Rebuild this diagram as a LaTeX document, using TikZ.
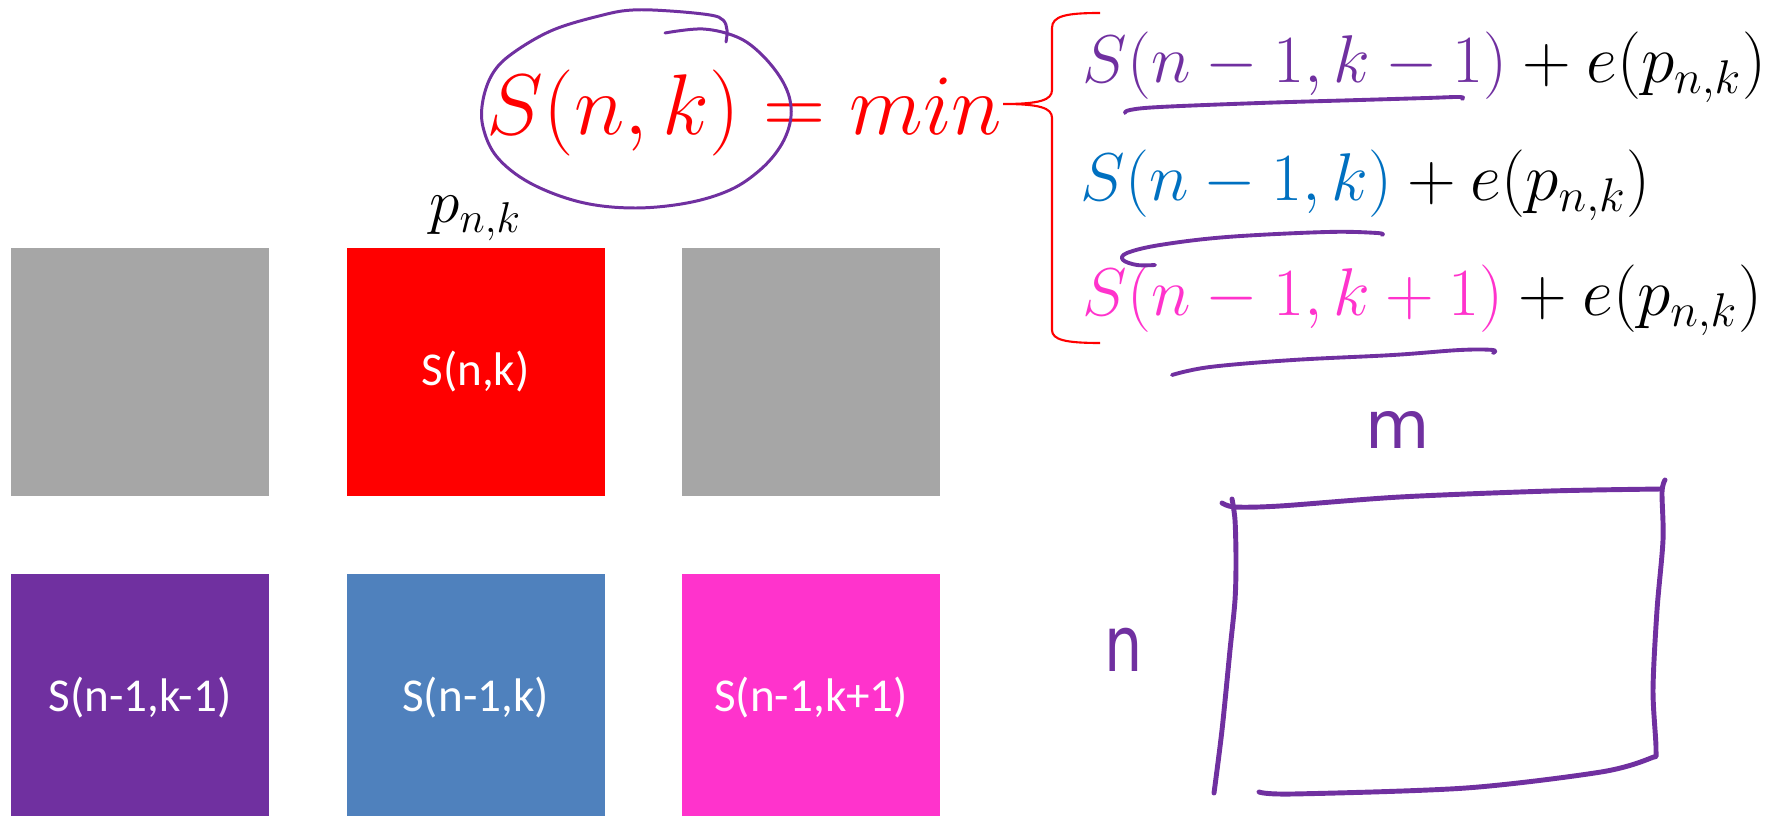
\documentclass[tikz,border=0pt]{standalone}
\usepackage{fix-cm}
\usepackage{fontspec}
\usepackage{xcolor}
\usepackage{tikz}
\usetikzlibrary{positioning}
\newfontfamily\calibri{Carlito}
\newfontfamily\inkhand{DejaVu Sans}
\definecolor{cellgray}{RGB}{166, 166, 166}
\definecolor{cellred}{RGB}{255, 0, 0}
\definecolor{cellpurple}{RGB}{112, 48, 160}
\definecolor{cellblue}{RGB}{79, 129, 189}
\definecolor{cellpink}{RGB}{255, 51, 204}
\definecolor{inkpurple}{RGB}{112, 48, 160}
\definecolor{termblue}{RGB}{0, 112, 192}
\tikzset{
  cell/.style={minimum width=2.58cm, minimum height=2.48cm, inner sep=0pt, text=white,
               font=\calibri\fontsize{13.4}{16}\selectfont},
  ink/.style={draw=inkpurple, line width=0.85pt, line cap=round, line join=round},
  thickink/.style={ink, line width=1.4pt},
  option/.style={anchor=base west, inner sep=0pt, font=\fontsize{19.2}{23}\selectfont},
  inkletter/.style={inner sep=0pt, text=inkpurple, font=\inkhand},
}

\begin{document}
\begin{tikzpicture}[x=0.01cm, y=-0.01cm]
    \useasboundingbox (0,0) rectangle (1767,816);
    \clip (0,0) rectangle (1767,816);

    % the six cells
    \node[cell, fill=cellgray] (nw) at (140,372) {};
    \node[cell, fill=cellred, right=0.76cm of nw] (nk) {S(n,k)};
    \node[cell, fill=cellgray, right=0.76cm of nk] (ne) {};
    \node[cell, fill=cellpurple, below=0.76cm of nw] (sw) {S(n-1,k-1)};
    \node[cell, fill=cellblue, below=0.76cm of nk] (sk) {S(n-1,k)};
    \node[cell, fill=cellpink, below=0.76cm of ne] (se) {S(n-1,k+1)};
    \node[inner sep=0pt, above=0.06cm of nk, font=\fontsize{17.5}{21}\selectfont] (pnk) {$p_{n,k}$};

    % recurrence
    \node[anchor=base west, inner sep=0pt, text=cellred, font=\fontsize{24.5}{29}\selectfont]
        (recur) at (486,135) {$S(n,k) = min$};
    \draw[cellred, line width=0.6pt] (1100,13) .. controls (1066,13) and (1052,16) .. (1052,28)
        -- (1052,90) .. controls (1052,100) and (1040,104) .. (1003,104)
        .. controls (1040,104) and (1052,108) .. (1052,118)
        -- (1052,330) .. controls (1052,340) and (1066,343) .. (1100,343);
    \node[option] (opt1) at (1082,83) {$\color{cellpurple}S(n-1,k-1)\color{black}+e(p_{n,k})$};
    \node[option] (opt2) at (1080,201) {$\color{termblue}S(n-1,k)\color{black}+e(p_{n,k})$};
    \node[option] (opt3) at (1082,316) {$\color{cellpink}S(n-1,k+1)\color{black}+e(p_{n,k})$};

    % ink on top
    \draw[ink] plot[smooth, tension=0.6] coordinates {(665,33) (703,29) (737,37) (760,53)
        (780,77) (790,100) (790,123) (780,147) (760,170) (730,190) (687,203) (633,208)
        (580,202) (530,183) (497,157) (483,127) (483,100) (493,73) (513,53) (553,30)
        (603,15) (633,10) (670,11) (710,15) (723,20) (727,30) (726,42)};
    \draw[ink, line width=1.1pt] plot[smooth, tension=0.6] coordinates {(1125,113) (1130,110)
        (1160,107) (1260,103) (1360,100) (1427,98) (1460,97) (1462,99)};
    \draw[ink, line width=1.1pt] plot[smooth, tension=0.6] coordinates {(1382,235) (1377,233)
        (1327,232) (1227,237) (1160,245) (1127,253) (1123,260) (1137,265) (1155,265)};
    \draw[ink, line width=1.1pt] plot[smooth, tension=0.6] coordinates {(1172,375) (1210,367)
        (1293,360) (1393,355) (1460,350) (1493,350) (1493,353)};

    % the n by m table
    \draw[thickink] plot[smooth, tension=0.5] coordinates {(1232,499) (1235,520) (1236,560)
        (1235,600) (1230,650) (1222,730) (1214,793)};
    \draw[thickink] plot[smooth, tension=0.5] coordinates {(1222,503) (1235,507) (1280,506)
        (1400,497) (1550,491) (1662,489)};
    \draw[thickink] plot[smooth, tension=0.5] coordinates {(1665,480) (1662,492) (1663,540)
        (1657,610) (1653,690) (1656,750) (1651,758) (1601,772) (1466,788) (1293,794) (1259,792)};
    \node[inkletter, font=\inkhand\fontsize{18.8}{22}\selectfont] (mlab) at (1398,430) {m};
    \node[inkletter, xscale=0.78, font=\inkhand\fontsize{22}{26}\selectfont] (nlab) at (1124,650) {n};
\end{tikzpicture}
\end{document}
